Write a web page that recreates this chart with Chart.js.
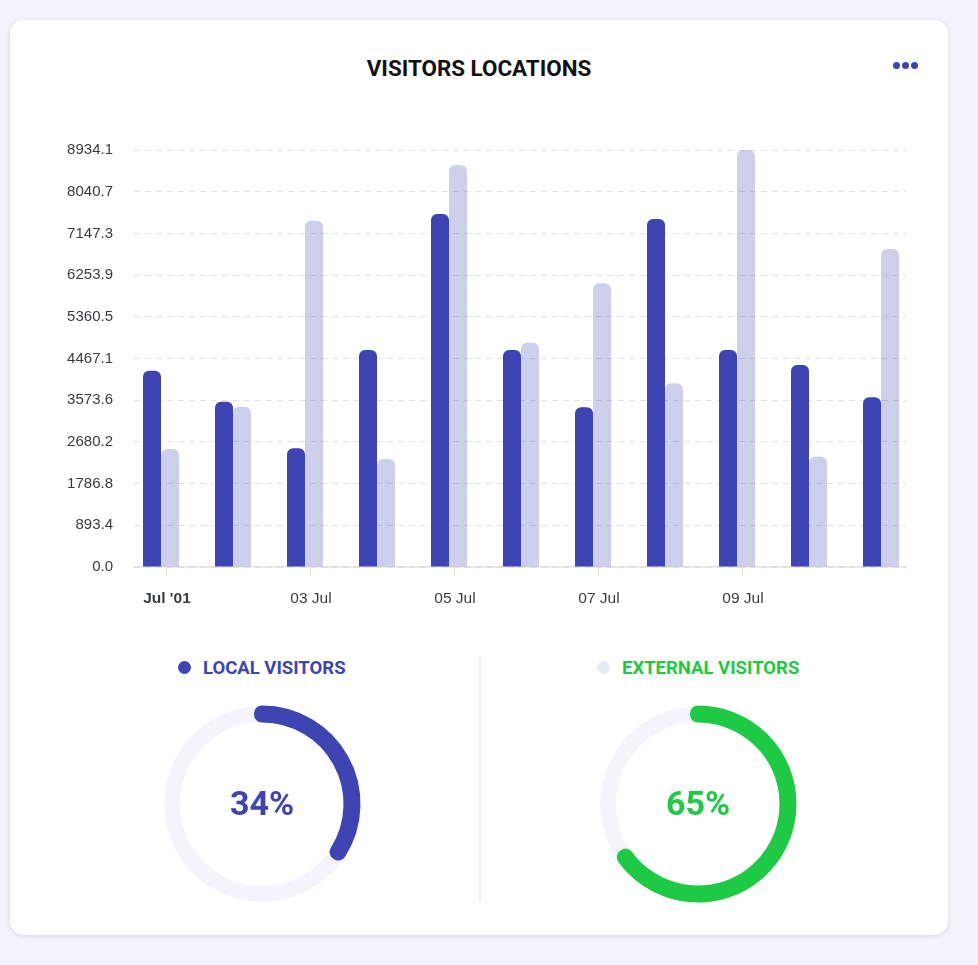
<!DOCTYPE html>
<html>
<head>
<meta charset="utf-8">
<script src="https://cdn.jsdelivr.net/npm/chart.js@4.4.1/dist/chart.umd.min.js"></script>
<style>
  html, body { margin:0; padding:0; }
  body { width:978px; height:965px; background:#f3f3fb; position:relative; overflow:hidden; font-family: Roboto, "Noto Sans", sans-serif; }
  .card { position:absolute; left:10px; top:20px; width:938px; height:915px; background:#fff; border-radius:14px; box-shadow:0 1px 5px rgba(40,40,90,0.14); }
  .title { position:absolute; left:10px; width:938px; top:54px; text-align:center; font-weight:700; font-size:22.4px; color:#111; line-height:28px; }
  .dots { position:absolute; top:61.5px; left:893px; }
  .dots span { position:absolute; top:0; width:7px; height:7px; border-radius:50%; background:#3e44b2; }
  .abs { position:absolute; }
  .legend { position:absolute; top:655px; font-weight:700; font-size:18.5px; line-height:26px; white-space:nowrap; }
  .legend i { display:inline-block; width:13px; height:13px; border-radius:50%; vertical-align:middle; margin-right:12px; position:relative; top:-2px; }
  .divider { position:absolute; left:479px; top:655px; width:1.5px; height:246px; background:#eef0f8; }
  .center { position:absolute; width:200px; text-align:center; font-weight:700; font-size:34px; line-height:40px; }
</style>
</head>
<body>
<div class="card"></div>
<div class="title">VISITORS LOCATIONS</div>
<div class="dots"><span style="left:0"></span><span style="left:9px"></span><span style="left:18px"></span></div>

<canvas id="bars" class="abs" style="left:60px; top:120px; width:860px; height:500px;" width="860" height="500"></canvas>

<div class="legend" style="left:178px; color:#3e44b2;"><i style="background:#3e44b2"></i>LOCAL VISITORS</div>
<div class="legend" style="left:597px; color:#1ec944;"><i style="background:#e8eaf6"></i>EXTERNAL VISITORS</div>
<div class="divider"></div>

<canvas id="d1" class="abs" style="left:152px; top:694px; width:220px; height:220px;" width="220" height="220"></canvas>
<canvas id="d2" class="abs" style="left:588px; top:694px; width:220px; height:220px;" width="220" height="220"></canvas>
<div class="center" id="c1" style="left:162px; top:783px; color:#3e44b2;"></div>
<div class="center" id="c2" style="left:598px; top:783px; color:#1ec944;"></div>

<script>
// ---- data ----
const days = ["01 Jul","02 Jul","03 Jul","04 Jul","05 Jul","06 Jul","07 Jul","08 Jul","09 Jul","10 Jul","11 Jul"];
const localVisitors    = [4206, 3542, 2543, 4649, 7563, 4649, 3421, 7456, 4649, 4328, 3635];
const externalVisitors = [2528, 3434, 7420, 2314, 8613, 4806, 6078, 3935, 8934.1, 2364, 6813];
const yTickLabels = ["0.0","893.4","1786.8","2680.2","3573.6","4467.1","5360.5","6253.9","7147.3","8040.7","8934.1"];
const xTickDays   = [0, 2, 4, 6, 8];
const xTickLabels = ["Jul '01","03 Jul","05 Jul","07 Jul","09 Jul"];
const localShare    = 34;
const externalShare = 65;

// ---- styles ----
const DARK = '#3e44b2';
const LIGHT = 'rgba(62,68,178,0.26)';
const GREEN = '#1ec944';
const TRACK = '#f4f5fc';
const AXIS_FONT = 'Liberation Sans, Arial, Helvetica, sans-serif';
const TEXT = '#373d3f';
const tickShift = 0.083;

Chart.defaults.font.family = AXIS_FONT;

new Chart(document.getElementById('bars'), {
  type: 'bar',
  data: {
    datasets: [
      { label: 'Local', data: localVisitors.map((v,i)=>({x:i, y:v})), backgroundColor: DARK,
        borderRadius: {topLeft:6, topRight:6, bottomLeft:0, bottomRight:0}, borderSkipped: false },
      { label: 'External', data: externalVisitors.map((v,i)=>({x:i, y:v})), backgroundColor: LIGHT,
        borderRadius: {topLeft:6, topRight:6, bottomLeft:0, bottomRight:0}, borderSkipped: false }
    ]
  },
  options: {
    responsive: false,
    animation: false,
    events: [],
    layout: { padding: { left:0, top:10, right:14, bottom:0 } },
    plugins: { legend: { display:false }, tooltip: { enabled:false } },
    datasets: { bar: { categoryPercentage: 0.5, barPercentage: 1.0 } },
    scales: {
      x: {
        type: 'linear',
        offset: false,
        min: -0.375, max: 10.347,
        afterBuildTicks: s => { s.ticks = xTickDays.map(d => ({ value: d + tickShift })); },
        afterFit: s => { s.height = 53; },
        grid: { offset: false, drawOnChartArea: false, drawTicks: true, tickLength: 8, tickColor: '#e0e0e0', color:'#e0e0e0' },
        border: { display: true, color: '#e0e0e0', width: 1.5 },
        ticks: {
          padding: 14,
          color: TEXT,
          maxRotation: 0,
          autoSkip: false,
          font: ctx => ({ size: 15.5, weight: ctx.index === 0 ? 'bold' : 'normal', family: AXIS_FONT }),
          callback: (v, i) => xTickLabels[i]
        }
      },
      y: {
        min: 0, max: 8934.1,
        afterBuildTicks: s => { s.ticks = yTickLabels.map(t => ({ value: parseFloat(t) })); },
        afterFit: s => { s.width = 74; },
        grid: { drawTicks: false, color: '#e0e0e6', lineWidth: 1 },
        border: { display: false, dash: [6, 5] },
        ticks: {
          padding: 21,
          color: TEXT,
          font: { size: 15, family: AXIS_FONT },
          callback: (v, i) => yTickLabels[i]
        }
      }
    }
  }
});

const trackPlugin = {
  id: 'track',
  beforeDatasetsDraw(chart) {
    const a = chart.getDatasetMeta(0).data[0];
    const ctx = chart.ctx;
    ctx.save();
    ctx.beginPath();
    ctx.arc(a.x, a.y, (a.innerRadius + a.outerRadius) / 2, 0, Math.PI * 2);
    ctx.lineWidth = 16;
    ctx.strokeStyle = TRACK;
    ctx.stroke();
    ctx.restore();
  }
};

function ring(id, value, color) {
  new Chart(document.getElementById(id), {
    type: 'doughnut',
    data: {
      datasets: [{
        data: [value, 100 - value],
        backgroundColor: [color, 'rgba(0,0,0,0)'],
        borderColor: [color, 'rgba(0,0,0,0)'],
        borderWidth: [16, 0],
        borderJoinStyle: 'round',
        borderAlign: 'center'
      }]
    },
    options: {
      responsive: false,
      animation: false,
      events: [],
      radius: 90.5,
      cutout: '98.9%',
      plugins: { legend: { display:false }, tooltip: { enabled:false } }
    },
    plugins: [trackPlugin]
  });
}
ring('d1', localShare, DARK);
ring('d2', externalShare, GREEN);
document.getElementById('c1').textContent = localShare + '%';
document.getElementById('c2').textContent = externalShare + '%';
</script>
</body>
</html>
